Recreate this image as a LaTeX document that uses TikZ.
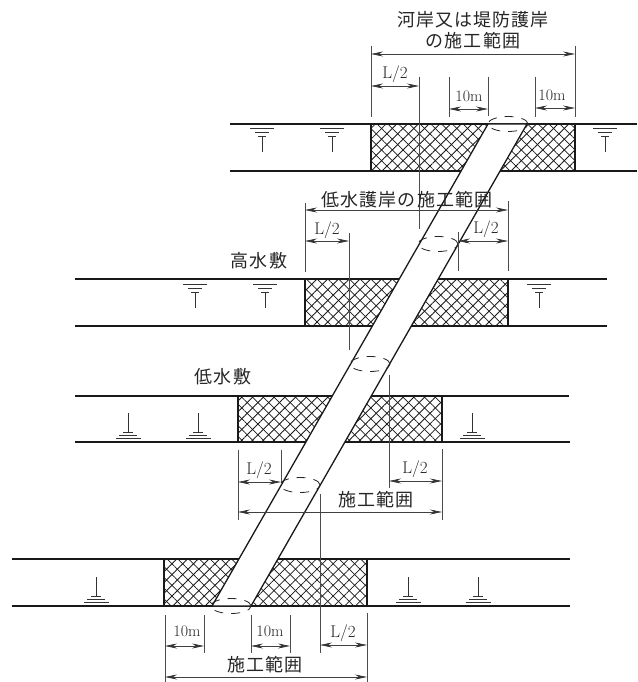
\documentclass[tikz,border=0pt]{standalone}
\usepackage{fontspec}
\newfontfamily\jpfont[LetterSpace=6]{Noto Sans CJK JP}
\usetikzlibrary{arrows.meta,patterns.meta,shapes.geometric}
\tikzset{
    bankline/.style={line width=1.3pt,black!90},
    hatchbox/.style={draw=black!90,line width=1.3pt,
        pattern={Lines[angle=45,distance=7.6pt,line width=.75pt]},pattern color=black!90,
        postaction={pattern={Lines[angle=-45,distance=7.6pt,line width=.75pt]},pattern color=black!90}},
    slopeband/.style={draw=black!90,fill=white,line width=1.3pt},
    crossoval/.style={draw=black!85,ellipse,dash pattern=on 9pt off 8pt,line width=.8pt,
        minimum width=40pt,minimum height=15pt,inner sep=0pt},
    extline/.style={line width=.7pt,black!70},
    dimline/.style={line width=.7pt,black!75,{Stealth[length=12pt,width=5pt,black!80]}-{Stealth[length=12pt,width=5pt,black!80]}},
    jplabel/.style={font=\jpfont\fontsize{18}{20}\selectfont,black!85,inner sep=0pt},
    numlabel/.style={font=\fontsize{17}{19}\selectfont,black!85,inner sep=0pt},
    mlabel/.style={font=\fontsize{16}{18}\selectfont,black!85,inner sep=0pt},
    surfdown/.pic={
        \draw[line width=.8pt,black!80] (-12,0) -- (12,0) (-7,4) -- (7,4) (-4,8) -- (4,8) (0,8) -- (0,24);
    },
    surfup/.pic={
        \draw[line width=.8pt,black!80] (0,0) -- (0,19) (-5,19) -- (5,19) (-9,22) -- (9,22) (-12.5,25) -- (12.5,25);
    }
}
\begin{document}
\begin{tikzpicture}[x=1pt,y=-1pt]
    \useasboundingbox (0,0) rectangle (637,682);
    % river banks
    \foreach \n/\xa/\xb/\y in {1/230/637/124,2/230/637/171,3/75/607/279,4/75/607/326,
        5/75/569/396,6/75/570/442,7/12/570/559,8/12/570/606} {
        \coordinate (b\n-a) at (\xa,\y);
        \coordinate (b\n-b) at (\xb,\y);
        \path[draw,bankline] (b\n-a) -- (b\n-b);
    }
    % revetment blocks
    \path[hatchbox] (371,124) rectangle (575,171);
    \path[hatchbox] (305,279) rectangle (508,326);
    \path[hatchbox] (238,396) rectangle (442,442);
    \path[hatchbox] (164,559) rectangle (367,606);
    % crossing band
    \coordinate (s1) at (488,124);
    \coordinate (s2) at (527,124);
    \coordinate (s3) at (251,606);
    \coordinate (s4) at (212,606);
    \path[slopeband] (s1) -- (s2) -- (s3) -- (s4) -- cycle;
    \node[crossoval] (o1) at (508,124) {};
    \node[crossoval] (o2) at (438,244) {};
    \node[crossoval] (o3) at (370,364) {};
    \node[crossoval] (o4) at (300,485) {};
    \node[crossoval] (o5) at (231,606) {};
    % water marks
    \foreach \x in {262,332,605} \pic at (\x,128) {surfdown};
    \foreach \x in {195,265,539} \pic at (\x,284) {surfdown};
    \foreach \x in {128,198,472} \pic at (\x,413) {surfup};
    \foreach \x in {96,408,478} \pic at (\x,577) {surfup};
    % extension lines
    \foreach \n/\x/\ya/\yb in {1/371/46/117,2/575/46/117,3/419/77/229,4/449/77/117,5/488/77/116,6/535/77/117,
        7/305/203/272,8/508/201/271,9/349/233/350,10/458/232/271,
        11/238/450/520,12/442/449/520,13/281/450/482,14/389/375/488,
        15/320/494/653,16/367/613/682,17/165/615/682,18/204/615/653,19/251/615/653,20/290/615/653} {
        \coordinate (e\n-a) at (\x,\ya);
        \coordinate (e\n-b) at (\x,\yb);
        \path[draw,extline] (e\n-a) -- (e\n-b);
    }
    % dimension arrows
    \foreach \n/\xa/\xb/\y in {1/371/575/54,2/371/419/86,3/449/488/109,4/535/575/108,
        5/305/508/210,6/305/349/241,7/458/508/241,
        8/238/281/482,9/389/442/481,10/238/442/512,
        11/320/367/645,12/165/204/646,13/251/290/646,14/165/367/677} {
        \coordinate (d\n-a) at (\xa,\y);
        \coordinate (d\n-b) at (\xb,\y);
        \path[draw,dimline] (d\n-a) -- (d\n-b);
    }
    % labels
    \node[jplabel] (t1) at (473,20) {河岸又は堤防護岸};
    \node[jplabel] (t2) at (473,41) {の施工範囲};
    \node[jplabel] (t3) at (407,200) {低水護岸の施工範囲};
    \node[jplabel] (t4) at (259,261) {高水敷};
    \node[jplabel] (t5) at (223,377) {低水敷};
    \node[jplabel] (t6) at (376,500) {施工範囲};
    \node[jplabel] (t7) at (265,665) {施工範囲};
    \node[numlabel] (l1) at (395,74) {L/2};
    \node[numlabel] (l2) at (327,230) {L/2};
    \node[numlabel] (l3) at (486,229) {L/2};
    \node[numlabel] (l4) at (259,470) {L/2};
    \node[numlabel] (l5) at (415,469) {L/2};
    \node[numlabel] (l6) at (343,633) {L/2};
    \node[mlabel] (m1) at (469,96) {10m};
    \node[mlabel] (m2) at (552,95) {10m};
    \node[mlabel] (m3) at (187,631) {10m};
    \node[mlabel] (m4) at (270,631) {10m};
\end{tikzpicture}
\end{document}
